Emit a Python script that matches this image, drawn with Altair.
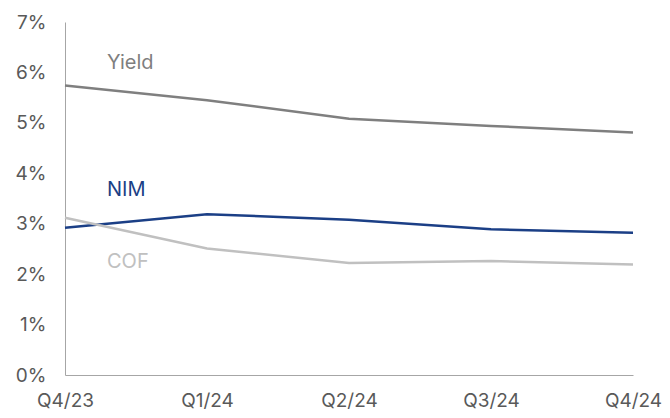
import altair as alt
import pandas as pd

quarters = ["Q4/23", "Q1/24", "Q2/24", "Q3/24", "Q4/24"]
yield_vals = [5.74, 5.45, 5.08, 4.94, 4.81]
nim_vals = [2.92, 3.19, 3.08, 2.89, 2.82]
cof_vals = [3.12, 2.51, 2.22, 2.26, 2.19]

series_names = ["Yield", "NIM", "COF"]
series_colors = ["#7f7f7f", "#1b3f86", "#c0c0c0"]
label_y = [6.19, 3.67, 2.24]

rows = []
for name, vals in zip(series_names, [yield_vals, nim_vals, cof_vals]):
    for q, v in zip(quarters, vals):
        rows.append({"quarter": q, "series": name, "value": v / 100})
df = pd.DataFrame(rows)

labels_df = pd.DataFrame({
    "quarter": [quarters[0]] * 3,
    "series": series_names,
    "value": [v / 100 for v in label_y],
})

font = "Inter"

x = alt.X("quarter:N", sort=quarters,
          scale=alt.Scale(type="point", padding=0),
          axis=alt.Axis(title=None, labelAngle=0, ticks=False, labelPadding=16,
                        labelFontSize=19, labelColor="#595959", labelFont=font,
                        domainColor="#a6a6a6", domainWidth=1, grid=False))
y = alt.Y("value:Q", scale=alt.Scale(domain=[0, 0.07], nice=False),
          axis=alt.Axis(title=None, format=".0%", values=[0, 0.01, 0.02, 0.03, 0.04, 0.05, 0.06, 0.07],
                        ticks=False, labelPadding=19, labelFontSize=19,
                        labelColor="#595959", labelFont=font,
                        domainColor="#a6a6a6", domainWidth=1, grid=False))
color = alt.Color("series:N", scale=alt.Scale(domain=series_names, range=series_colors), legend=None)

lines = alt.Chart(df).mark_line(strokeWidth=2.5).encode(x=x, y=y, color=color, detail="series:N")

texts = alt.Chart(labels_df).mark_text(align="left", baseline="middle", dx=42,
                                       fontSize=20, font=font).encode(
    x=alt.X("quarter:N", sort=quarters), y=alt.Y("value:Q"), text="series:N", color=color)

chart = alt.layer(lines, texts).properties(
    width=568, height=353,
    background="white",
    autosize=alt.AutoSizeParams(type="none"),
    padding={"left": 65, "top": 22, "right": 37, "bottom": 43},
).configure_view(stroke=None)

chart.save("out.html", embed_options={"renderer": "svg", "actions": False})
